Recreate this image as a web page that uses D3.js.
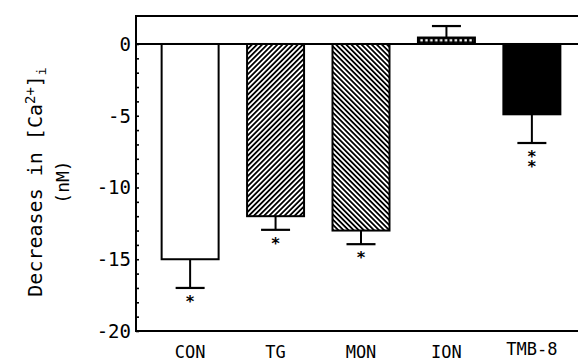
<!DOCTYPE html>
<html>
<head>
<meta charset="UTF-8">
<script src="https://d3js.org/d3.v7.min.js"></script>
<style>
  body { margin: 0; background: #fff; }
  text { font-family: "DejaVu Sans Mono", monospace; fill: #000; }
</style>
</head>
<body>
<div id="chart"></div>
<script>
// data
var categories = ["CON", "TG", "MON", "ION", "TMB-8"];
var means = [-15, -12, -13, 0.45, -4.9];
var errors = [2, 0.95, 0.95, 0.8, 2];
var marks = ["*", "*", "*", "", "**"];
var fills = ["white", "url(#hatchUp)", "url(#hatchDown)", "url(#dots)", "black"];
var yTicks = [0, -5, -10, -15, -20];

var W = 578, H = 361;
var plotLeft = 136, plotTop = 16, plotBottom = 331;

var svg = d3.select("#chart").append("svg")
    .attr("width", W).attr("height", H);

var defs = svg.append("defs");
function hatch(id, angle) {
    var p = defs.append("pattern").attr("id", id)
        .attr("patternUnits", "userSpaceOnUse")
        .attr("width", 3.6).attr("height", 4)
        .attr("patternTransform", "rotate(" + angle + ")");
    p.append("rect").attr("width", 3.6).attr("height", 4).attr("fill", "white");
    p.append("line").attr("x1", 0.9).attr("y1", 0).attr("x2", 0.9).attr("y2", 4)
        .attr("stroke", "black").attr("stroke-width", 1.8);
}
hatch("hatchUp", 45);
hatch("hatchDown", -45);

var y = d3.scaleLinear().domain([-20, 1.95]).range([plotBottom, plotTop]);
var x = d3.scaleBand().domain(categories).range([136, 586])
    .paddingInner(0.333).paddingOuter(0.3);

var dp = defs.append("pattern").attr("id", "dots")
    .attr("patternUnits", "userSpaceOnUse")
    .attr("width", 4.9).attr("height", 8)
    .attr("x", x("ION") + 1).attr("y", y(means[3]) - 0.3);
dp.append("rect").attr("width", 4.9).attr("height", 8).attr("fill", "black");
dp.append("rect").attr("x", 1.4).attr("y", 1.9).attr("width", 2.4).attr("height", 2.4).attr("fill", "white");

// axis with inward ticks
var yAxis = svg.append("g").attr("transform", "translate(" + plotLeft + ",0)")
    .call(d3.axisRight(y).tickValues(d3.range(-20, 1, 1)).tickSize(3).tickFormat(""));
yAxis.select(".domain").remove();
yAxis.selectAll("line").attr("stroke-width", 1.6);
svg.append("g").selectAll("text").data(yTicks).enter().append("text")
    .attr("x", plotLeft - 5).attr("y", function (d) { return y(d) + 7; })
    .attr("text-anchor", "end").style("font-size", "19px")
    .text(function (d) { return String(d); });

// frame
svg.append("path").attr("d", "M" + W + "," + plotTop + "H" + plotLeft + "V" + plotBottom + "H" + W)
    .attr("fill", "none").attr("stroke", "black").attr("stroke-width", 2);

// bars
var bars = categories.map(function (c, i) {
    return { c: c, m: means[i], e: errors[i], s: marks[i], f: fills[i] };
});
var g = svg.append("g");
g.selectAll("rect.bar").data(bars).enter().append("rect")
    .attr("x", function (d) { return x(d.c); })
    .attr("width", x.bandwidth())
    .attr("y", function (d) { return Math.min(y(d.m), y(0)); })
    .attr("height", function (d) { return Math.abs(y(d.m) - y(0)); })
    .attr("fill", function (d) { return d.f; })
    .attr("stroke", "black").attr("stroke-width", 2);

function errEnd(d) { return y(d.m + (d.m < 0 ? -d.e : d.e)); }
function cx(d) { return x(d.c) + x.bandwidth() / 2; }

// error bars
g.selectAll("line.err").data(bars).enter().append("line")
    .attr("x1", cx).attr("x2", cx)
    .attr("y1", function (d) { return y(d.m); })
    .attr("y2", errEnd)
    .attr("stroke", "black").attr("stroke-width", 2);
g.selectAll("line.cap").data(bars).enter().append("line")
    .attr("x1", function (d) { return cx(d) - 14.5; })
    .attr("x2", function (d) { return cx(d) + 14.5; })
    .attr("y1", errEnd).attr("y2", errEnd)
    .attr("stroke", "black").attr("stroke-width", 2.2);

// zero line
svg.append("line").attr("x1", plotLeft).attr("x2", W).attr("y1", y(0)).attr("y2", y(0))
    .attr("stroke", "black").attr("stroke-width", 2);

// significance stars, stacked in one text
var st = svg.append("g").selectAll("text").data(bars.filter(function (d) { return d.s; }))
    .enter().append("text")
    .attr("text-anchor", "middle").style("font-size", "16px").style("font-weight", "bold");
st.each(function (d) {
    var t = d3.select(this);
    for (var k = 0; k < d.s.length; k++) {
        t.append("tspan").attr("x", cx(d)).attr("y", errEnd(d) + 19 + k * 10).text("*");
    }
});

// category labels
svg.append("g").selectAll("text").data(categories).enter().append("text")
    .attr("x", function (d) { return x(d) + x.bandwidth() / 2; })
    .attr("y", function (d) { return d === "TMB-8" ? 355 : 358; })
    .attr("text-anchor", "middle").style("font-size", "17px")
    .text(function (d) { return d; });

// y label
var yl = svg.append("text").attr("transform", "translate(42,182) rotate(-90)")
    .attr("text-anchor", "middle").style("font-size", "20px");
yl.append("tspan").text("Decreases in [Ca");
yl.append("tspan").attr("dy", -7).style("font-size", "14px").text("2+");
yl.append("tspan").attr("dy", 7).text("]");
yl.append("tspan").attr("dy", 4).style("font-size", "13px").text("i");
svg.append("text").attr("transform", "translate(69,182) rotate(-90)")
    .attr("text-anchor", "middle").style("font-size", "18px").text("(nM)");
</script>
</body>
</html>
